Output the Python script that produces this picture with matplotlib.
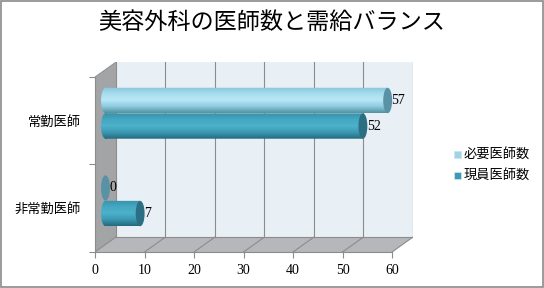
import numpy as np
import matplotlib
matplotlib.use('Agg')
import matplotlib.pyplot as plt
from matplotlib.patches import Rectangle, Ellipse, Polygon, PathPatch
from matplotlib.path import Path
from matplotlib.colors import LinearSegmentedColormap

plt.rcParams['font.family'] = ['Noto Sans CJK JP', 'DejaVu Sans']

title = '美容外科の医師数と需給バランス'
categories = ['非常勤医師', '常勤医師']      # bottom to top
series_names = ['必要医師数', '現員医師数']
needed = [0, 57]
current = [7, 52]
xticks = [0, 10, 20, 30, 40, 50, 60]

# pseudo 3d geometry (data units)
depth_x = 4.24
depth_y = 0.171
bar_h = 0.29
cap_w = 1.8

grads = [
    ['#55929f', '#8ccbe0', '#b8e7f5', '#a8ddef', '#86c6da'],
    ['#246a7e', '#3a98b2', '#4db2cb', '#45a7c1', '#3892ab'],
]
cap_cols = ['#5a92a5', '#2c6f84']
legend_cols = ['#9fd3e6', '#3b9ab4']

fig = plt.figure(figsize=(5.44, 2.88), dpi=100)
ax = fig.add_axes([95 / 544, 36 / 288, 318 / 544, 190 / 288])
ax.set_facecolor('none')

# walls and floor
xmax = xticks[-1]
ymax = len(categories)
ax.add_patch(Polygon([(depth_x, depth_y), (xmax + depth_x, depth_y),
                      (xmax + depth_x, ymax + depth_y), (depth_x, ymax + depth_y)],
                     closed=True, fc='#e8eff5', ec='none', zorder=0))
ax.add_patch(Polygon([(0, 0), (xmax, 0), (xmax + depth_x, depth_y), (depth_x, depth_y)],
                     closed=True, fc='#b5b7bb', ec='none', zorder=0))
ax.add_patch(Polygon([(0, 0), (0, ymax), (depth_x, ymax + depth_y), (depth_x, depth_y)],
                     closed=True, fc='#a3a4a6', ec='none', zorder=0))
for v in xticks:
    ax.plot([v + depth_x, v + depth_x], [depth_y, ymax + depth_y], color='#8c8c8c', lw=0.8, zorder=1)
    ax.plot([v, v + depth_x], [0, depth_y], color='#8c8c8c', lw=0.8, zorder=1)
ax.plot([depth_x, xmax + depth_x], [depth_y, depth_y], color='#8c8c8c', lw=0.8, zorder=1)
ax.plot([0, depth_x], [ymax, ymax + depth_y], color='#8c8c8c', lw=0.6, zorder=1)

# cylinders
off_x = depth_x / 2
off_y = depth_y / 2
for s, vals in enumerate([needed, current]):
    cmap = LinearSegmentedColormap.from_list('c%d' % s, grads[s])
    for i, v in enumerate(vals):
        yc = i + 0.5 + (0.146 if s == 0 else -0.146) + off_y
        x0 = off_x
        x1 = v + off_x
        if v > 0:
            rect = Rectangle((x0, yc - bar_h / 2), x1 - x0, bar_h)
            ell = Ellipse((x0, yc), cap_w, bar_h)
            p = Path.make_compound_path(
                rect.get_path().transformed(rect.get_patch_transform()),
                ell.get_path().transformed(ell.get_patch_transform()))
            clip = PathPatch(p, fc='none', ec='none', transform=ax.transData)
            ax.add_patch(clip)
            grad = np.linspace(0, 1, 64).reshape(-1, 1)
            im = ax.imshow(grad, cmap=cmap, aspect='auto', origin='lower',
                           extent=[x0 - cap_w / 2, x1, yc - bar_h / 2, yc + bar_h / 2],
                           zorder=3, interpolation='bilinear')
            im.set_clip_path(clip)
        ax.add_patch(Ellipse((x1, yc), cap_w, bar_h, fc=cap_cols[s], ec='none', zorder=4))
        ax.text(x1 + cap_w / 2 - 0.1, yc, str(v), ha='left', va='center', fontsize=10,
                family=['Liberation Serif'], zorder=5)

ax.set_xlim(0, xmax + depth_x)
ax.set_ylim(0, ymax + depth_y)
for side in ['top', 'right']:
    ax.spines[side].set_visible(False)
ax.spines['bottom'].set_bounds(0, xmax)
ax.spines['left'].set_bounds(0, ymax)
ax.spines['bottom'].set_color('#8c8c8c')
ax.spines['left'].set_color('#8c8c8c')
ax.set_xticks(xticks)
ax.set_xticklabels([str(t) for t in xticks], family=['Liberation Serif'], fontsize=10)
ax.set_yticks(range(ymax + 1))
ax.set_yticklabels([])
ax.set_yticks([i + 0.5 for i in range(ymax)], minor=True)
ax.set_yticklabels(categories, minor=True, fontsize=9.5)
ax.tick_params(axis='both', which='major', color='#8c8c8c', length=4)
ax.tick_params(axis='y', which='minor', length=0, pad=10)
ax.tick_params(axis='x', pad=5)

# legend
for s, name in enumerate(series_names):
    fy = 1 - (154 + s * 21) / 288
    fig.patches.append(Rectangle((454 / 544, fy - 3.5 / 288), 7 / 544, 7 / 288,
                                 transform=fig.transFigure, fc=legend_cols[s],
                                 ec='#d0e4ec', lw=0.6))
    fig.text(464 / 544, fy, name, ha='left', va='center', fontsize=9.5)

fig.text(0.5, 1 - 22 / 288, title, ha='center', va='center', fontsize=16.7)
fig.patches.append(Rectangle((0.001, 0.002), 0.997, 0.995, transform=fig.transFigure,
                             fc='none', ec='#8a8a8a', lw=1.2))

fig.savefig('out.png', dpi=100)
